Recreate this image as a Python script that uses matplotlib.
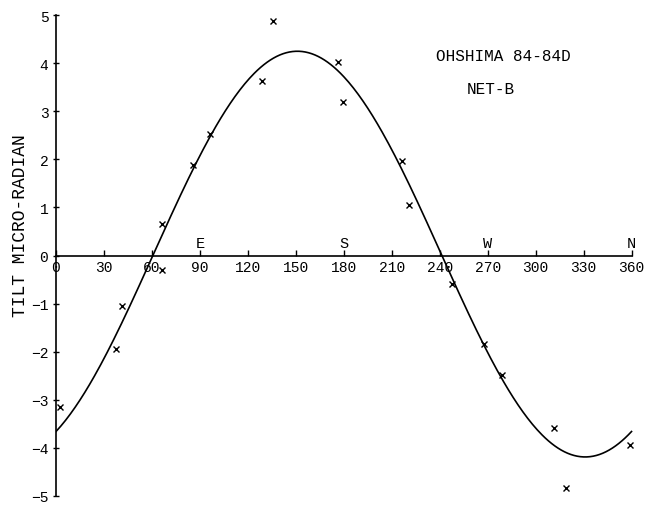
import matplotlib
matplotlib.use("Agg")
import matplotlib.pyplot as plt
import numpy as np

matplotlib.rcParams['font.family'] = ['Liberation Mono', 'DejaVu Sans Mono']

# measured tilt (azimuth in degrees, tilt in micro-radian)
azimuth = [2.5, 37.3, 41.0, 66.5, 66.5, 85.8, 96.4, 128.7, 135.6, 176.6,
           179.7, 216.4, 220.8, 247.5, 268.0, 279.2, 311.6, 319.0, 359.0]
tilt = [-3.16, -1.95, -1.04, 0.65, -0.30, 1.89, 2.53, 3.64, 4.88, 4.03,
        3.19, 1.97, 1.06, -0.59, -1.85, -2.48, -3.58, -4.84, -3.95]

# fitted sine curve parameters
fit_amp = 4.22
fit_phase = 61.0
fit_offset = 0.03

xticks = [0, 30, 60, 90, 120, 150, 180, 210, 240, 270, 300, 330, 360]
yticks = [-5, -4, -3, -2, -1, 0, 1, 2, 3, 4, 5]
compass = ["E", "S", "W", "N"]
compass_at = [90, 180, 270, 360]


def figure_1():
    fig = plt.figure(figsize=(6.51, 5.06), dpi=100)
    ax = fig.add_axes([0.086, 0.018, 0.889, 0.950])

    theta = np.linspace(0, 360, 361)
    curve = fit_amp * np.sin(np.radians(theta - fit_phase)) + fit_offset
    ax.plot(theta, curve, "-", color="black", lw=1.2)
    ax.plot(azimuth, tilt, "x", color="black", ms=5, mew=1.0)

    ax.set_xlim(0, 362)
    ax.set_ylim(-5, 5)

    ax.spines['top'].set_visible(False)
    ax.spines['right'].set_visible(False)
    ax.spines['bottom'].set_position(('data', 0))
    ax.spines['left'].set_position(('data', 0))
    ax.spines['bottom'].set_bounds(0, 360)
    for s in ('bottom', 'left'):
        ax.spines[s].set_linewidth(1.2)

    ax.set_xticks(xticks)
    ax.set_xticklabels([str(v) for v in xticks])
    ax.set_yticks(yticks)
    ax.set_yticklabels([str(v).replace("-", "\u2212") for v in yticks])
    ax.tick_params(axis='x', direction='in', length=4, width=1, pad=3,
                   labelsize=10.5)
    ax.tick_params(axis='y', direction='inout', length=5, width=1, pad=3,
                   labelsize=10.5)

    for lab, pos in zip(compass, compass_at):
        ax.text(pos, 0.12, lab, ha="center", va="bottom", fontsize=11)

    ax.text(280, 4.16, "OHSHIMA 84-84D", ha="center", va="center",
            fontsize=11.5)
    ax.text(272, 3.48, "NET-B", ha="center", va="center", fontsize=11.5)

    fig.text(0.031, 0.555, "TILT MICRO-RADIAN", rotation=90, ha="center",
             va="center", fontsize=13)

    fig.savefig("out.png", dpi=100)


def main():
    figure_1()


if __name__ == '__main__':
    main()
